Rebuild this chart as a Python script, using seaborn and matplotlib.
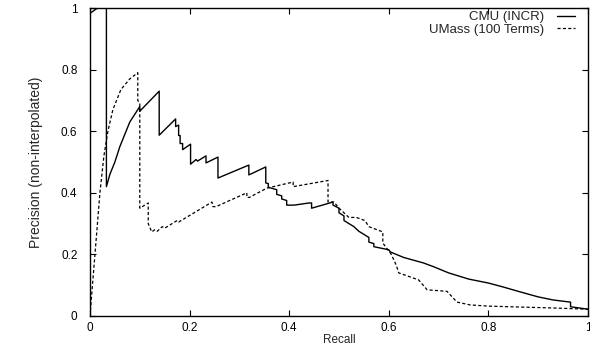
import numpy as np
import pandas as pd
import seaborn as sns
import matplotlib
matplotlib.use("Agg")
import matplotlib.pyplot as plt

# values
cmu_recall = [0.002, 0.015, 0.03, 0.033, 0.033, 0.04, 0.05, 0.06, 0.07, 0.08, 0.09, 0.1, 0.1,
              0.139, 0.139, 0.172, 0.172, 0.178, 0.178, 0.181, 0.181, 0.186, 0.186, 0.202, 0.202,
              0.213, 0.216, 0.233, 0.233, 0.257, 0.257, 0.319, 0.319, 0.353, 0.353, 0.358, 0.358,
              0.375, 0.375, 0.385, 0.385, 0.395, 0.395, 0.41, 0.44, 0.445, 0.445, 0.488, 0.488,
              0.5, 0.5, 0.51, 0.51, 0.52, 0.53, 0.54, 0.55, 0.56, 0.56, 0.57, 0.57, 0.6, 0.603,
              0.63, 0.67, 0.69, 0.72, 0.74, 0.76, 0.8, 0.83, 0.86, 0.9, 0.93, 0.965, 0.965, 1.0]
cmu_precision = [0.985, 1.0, 1.0, 1.0, 0.42, 0.46, 0.5, 0.55, 0.59, 0.63, 0.655, 0.68, 0.665,
                 0.73, 0.587, 0.64, 0.615, 0.62, 0.586, 0.586, 0.56, 0.56, 0.54, 0.558, 0.493,
                 0.508, 0.503, 0.52, 0.497, 0.516, 0.448, 0.49, 0.458, 0.484, 0.432, 0.43, 0.418,
                 0.41, 0.395, 0.39, 0.38, 0.375, 0.36, 0.36, 0.367, 0.367, 0.35, 0.37, 0.36,
                 0.35, 0.335, 0.325, 0.31, 0.3, 0.29, 0.275, 0.265, 0.255, 0.24, 0.235, 0.225, 0.215, 0.208,
                 0.19, 0.172, 0.16, 0.14, 0.13, 0.12, 0.107, 0.094, 0.08, 0.062, 0.052, 0.045, 0.03, 0.022]

umass_recall = [0.0, 0.005, 0.01, 0.015, 0.02, 0.028, 0.036, 0.046, 0.062, 0.08, 0.096, 0.096, 0.1,
                0.1, 0.117, 0.117, 0.124, 0.13, 0.135, 0.145, 0.15, 0.175, 0.178, 0.245, 0.247,
                0.253, 0.315, 0.315, 0.32, 0.355, 0.408, 0.408, 0.478, 0.478, 0.49, 0.5, 0.52,
                0.535, 0.552, 0.56, 0.588, 0.588, 0.605, 0.615, 0.62, 0.66, 0.677, 0.717, 0.737,
                0.763, 0.8, 0.93, 1.0]
umass_precision = [0.0, 0.1, 0.2, 0.3, 0.4, 0.52, 0.6, 0.67, 0.735, 0.77, 0.79, 0.70, 0.69,
                   0.35, 0.367, 0.30, 0.273, 0.28, 0.275, 0.29, 0.285, 0.31, 0.305, 0.37, 0.355,
                   0.355, 0.40, 0.385, 0.385, 0.415, 0.435, 0.42, 0.44, 0.37, 0.37, 0.35, 0.32,
                   0.32, 0.31, 0.29, 0.273, 0.237, 0.2, 0.165, 0.14, 0.117, 0.085, 0.08, 0.045,
                   0.036, 0.032, 0.026, 0.022]

tick_vals = [0, 0.2, 0.4, 0.6, 0.8, 1]
tick_labels = ['0', '0.2', '0.4', '0.6', '0.8', '1']

sns.set_theme(style="ticks")
plt.rcParams['font.family'] = ['Liberation Sans', 'DejaVu Sans']

fig = plt.figure(figsize=(5.9, 3.49), dpi=100)
ax = fig.add_axes([0.1525, 0.0946, 0.8441, 0.8824])

sns.lineplot(x=cmu_recall, y=cmu_precision, sort=False, estimator=None, ax=ax,
             color='black', linewidth=1.0, label='CMU (INCR)')
sns.lineplot(x=umass_recall, y=umass_precision, sort=False, estimator=None, ax=ax,
             color='black', linewidth=0.9, linestyle=(0, (2.5, 1.8)), label='UMass (100 Terms)')

ax.set_xlim(0, 1)
ax.set_ylim(0, 1)
ax.set_xticks(tick_vals)
ax.set_xticklabels(tick_labels)
ax.set_yticks(tick_vals)
ax.set_yticklabels(tick_labels)
ax.tick_params(direction='in', top=True, right=True, length=4, width=0.8,
               labelsize=8.5, colors='black')
ax.tick_params(axis='y', pad=9)
ax.tick_params(axis='x', pad=4)
for s in ax.spines.values():
    s.set_color('black')
    s.set_linewidth(1.0)

ax.set_xlabel('Recall', fontsize=8.5, labelpad=0)
ax.set_ylabel('Precision (non-interpolated)', fontsize=10)
ax.yaxis.set_label_coords(-0.094, 0.5)

leg = ax.legend(loc='upper right', bbox_to_anchor=(0.974, 0.99), frameon=False,
                markerfirst=False, fontsize=9.5, handlelength=1.35, handletextpad=1.0,
                borderpad=0, borderaxespad=0, labelspacing=0.0)
for t in leg.get_texts():
    t.set_ha('right')
leg._legend_box.align = 'right'

fig.savefig('out.png', dpi=100)
